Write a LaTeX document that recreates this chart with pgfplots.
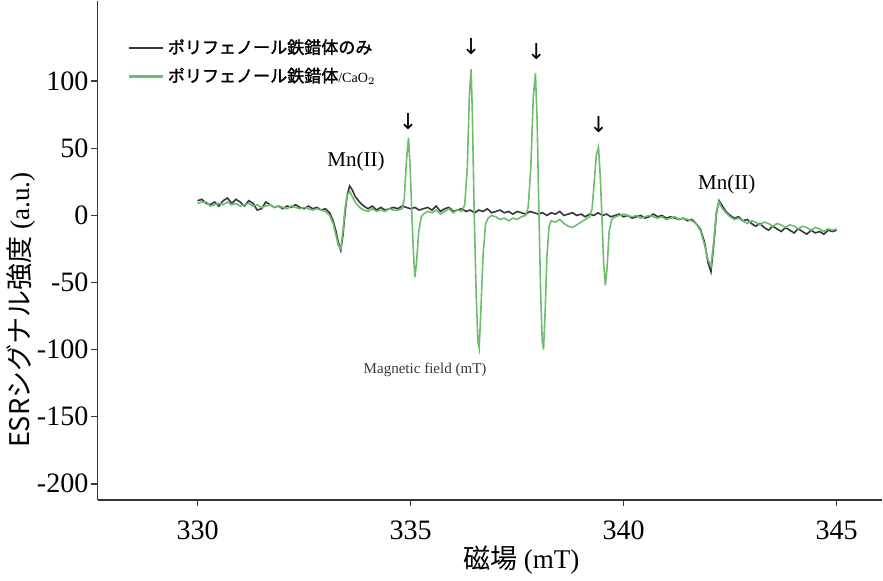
\documentclass[border=0pt]{standalone}
\usepackage{fontspec}
\setmainfont{Liberation Serif}
\newfontfamily\cjk{Noto Sans CJK JP}
\newfontfamily\cjkb{Noto Sans CJK JP}[FakeBold=1.6]
\newfontfamily\symb{DejaVu Sans}
\usepackage{pgfplots}
\pgfplotsset{compat=1.18}

\definecolor{blk}{RGB}{55,55,55}
\definecolor{grn}{RGB}{110,188,110}

\begin{document}
\begin{tikzpicture}
\begin{axis}[
  scale only axis, width=391.5pt, height=249pt,
  xmin=327.65, xmax=346.07, ymin=-212, ymax=160,
  axis x line=bottom, axis y line=left,
  axis line style={-, blk, line width=0.8pt},
  xtick={330,335,340,345}, ytick={-200,-150,...,100},
  tick align=outside, major tick length=3pt,
  tick style={blk, line width=0.8pt},
  /pgf/number format/assume math mode=true,
  xticklabel style={font=\fontsize{14}{16}\selectfont, yshift=-4pt},
  yticklabel style={font=\fontsize{14}{16}\selectfont, xshift=2pt},
  xlabel={{\cjk 磁場} (mT)},
  xlabel style={font=\fontsize{13.5}{16}\selectfont, at={(ticklabel cs:0.54)}, yshift=4pt},
  ylabel={{\cjk ESRシグナル強度} (a.u.)},
  ylabel style={font=\fontsize{13.5}{16}\selectfont, at={(ticklabel cs:0.38)}, yshift=-6pt},
  legend style={draw=none, fill=none, at={(0.03,0.94)}, anchor=north west,
    font=\cjkb\fontsize{8.5}{10}\selectfont, row sep=1.5pt},
  legend cell align=left,
  legend image code/.code={\draw[#1, line width=1.2pt] (0pt,0pt) -- (17pt,0pt);},
]
\addplot[blk, line width=0.8pt] coordinates {
(330.0,11)(330.1,12)(330.2,9)(330.3,8)(330.4,10)(330.5,7)(330.6,11)(330.7,13)(330.8,9)(330.9,12)
(331.0,10)(331.1,7)(331.2,11)(331.3,9)(331.4,4)(331.5,5)(331.6,10)(331.7,8)(331.8,6)(331.9,7)
(332.0,5)(332.1,7)(332.2,6)(332.3,8)(332.4,6)(332.5,5)(332.6,7)(332.7,5)(332.8,6)(332.9,4)
(333.0,5)(333.1,2)(333.18,-4)(333.25,-12)(333.3,-20)(333.36,-26)(333.41,-15)(333.46,2)(333.51,15)(333.57,22)
(333.63,19)(333.7,14)(333.8,10)(333.9,7)(334.0,5)(334.1,7)(334.2,4)(334.3,6)(334.4,4)(334.5,5)
(334.6,6)(334.7,5)(334.8,7)(334.9,6)(335.0,5)(335.1,6)(335.2,4)(335.3,5)(335.4,6)(335.5,4)
(335.6,7)(335.7,3)(335.8,5)(335.9,6)(336.0,3)(336.1,4)(336.2,5)(336.3,3)(336.4,4)(336.5,2)
(336.6,4)(336.7,3)(336.8,5)(336.9,2)(337.0,3)(337.1,4)(337.2,2)(337.3,3)(337.4,1)(337.5,3)
(337.6,2)(337.7,1)(337.8,3)(337.9,2)(338.0,1)(338.1,2)(338.2,0)(338.3,2)(338.4,1)(338.5,3)
(338.6,0)(338.7,1)(338.8,2)(338.9,0)(339.0,1)(339.1,-1)(339.2,1)(339.3,0)(339.4,2)(339.5,0)
(339.6,1)(339.7,-1)(339.8,0)(339.9,1)(340.0,-1)(340.1,0)(340.2,-2)(340.3,-1)(340.4,0)(340.5,-2)
(340.6,-1)(340.7,1)(340.8,-1)(340.9,0)(341.0,-2)(341.1,-1)(341.2,-2)(341.3,-3)(341.4,-2)(341.5,-4)
(341.6,-3)(341.7,-6)(341.8,-10)(341.9,-20)(341.98,-35)(342.05,-42)(342.12,-20)(342.18,2)(342.24,11)(342.3,8)
(342.4,3)(342.5,0)(342.6,-2)(342.7,-1)(342.8,-4)(342.9,-3)(343.0,-6)(343.1,-8)(343.2,-6)(343.3,-9)
(343.4,-11)(343.5,-8)(343.6,-10)(343.7,-12)(343.8,-9)(343.9,-11)(344.0,-13)(344.1,-10)(344.2,-12)(344.3,-14)
(344.4,-11)(344.5,-13)(344.6,-12)(344.7,-14)(344.8,-11)(344.9,-12)(345.0,-11)
};
\addplot[grn, line width=0.8pt] coordinates {
(330.0,9)(330.1,10)(330.2,10)(330.3,7)(330.4,8)(330.5,9)(330.6,8)(330.7,10)(330.8,8)(330.9,9)
(331.0,7)(331.1,8)(331.2,9)(331.3,7)(331.4,8)(331.5,6)(331.6,7)(331.7,8)(331.8,6)(331.9,7)
(332.0,6)(332.1,5)(332.2,7)(332.3,6)(332.4,5)(332.5,6)(332.6,5)(332.7,4)(332.8,5)(332.9,4)
(333.0,3)(333.1,0)(333.18,-6)(333.25,-15)(333.3,-22)(333.36,-25)(333.41,-12)(333.46,5)(333.51,15)(333.57,18)
(333.63,14)(333.7,10)(333.8,6)(333.9,4)(334.0,3)(334.1,5)(334.2,3)(334.3,4)(334.4,3)(334.5,5)
(334.6,4)(334.7,4)(334.8,5)(334.85,12)(334.9,40)(334.95,58)(334.99,35)(335.03,0)(335.07,-30)(335.1,-46)
(335.14,-35)(335.19,-12)(335.25,-1)(335.3,1)(335.4,3)(335.5,2)(335.6,4)(335.7,1)(335.8,3)(335.9,5)
(336.0,2)(336.1,4)(336.2,3)(336.27,8)(336.33,35)(336.38,90)(336.42,109)(336.45,75)(336.49,5)(336.54,-60)
(336.58,-94)(336.61,-99)(336.65,-70)(336.7,-30)(336.76,-6)(336.82,-2)(336.9,0)(337.0,-1)(337.1,-3)(337.2,-2)
(337.3,-4)(337.4,-2)(337.5,-3)(337.6,-1)(337.7,0)(337.76,6)(337.82,35)(337.88,88)(337.93,106)(337.97,70)
(338.01,5)(338.05,-55)(338.09,-94)(338.12,-100)(338.16,-70)(338.2,-30)(338.25,-8)(338.3,-4)(338.4,-5)(338.5,-3)
(338.6,-6)(338.7,-8)(338.8,-9)(338.9,-7)(339.0,-5)(339.1,-3)(339.2,-1)(339.26,5)(339.31,25)(339.36,45)
(339.41,51)(339.45,30)(339.49,0)(339.53,-35)(339.57,-52)(339.61,-40)(339.66,-12)(339.72,-3)(339.8,-1)(339.9,0)
(340.0,1)(340.1,0)(340.2,-1)(340.3,0)(340.4,-2)(340.5,-1)(340.6,0)(340.7,-1)(340.8,-2)(340.9,-1)
(341.0,-3)(341.1,-2)(341.2,-1)(341.3,-3)(341.4,-2)(341.5,-3)(341.6,-4)(341.7,-6)(341.8,-11)(341.9,-22)
(341.98,-33)(342.05,-38)(342.12,-18)(342.18,3)(342.24,10)(342.3,6)(342.4,2)(342.5,-1)(342.6,-3)(342.7,-2)
(342.8,-4)(342.9,-6)(343.0,-4)(343.1,-5)(343.2,-7)(343.3,-5)(343.4,-6)(343.5,-8)(343.6,-6)(343.7,-7)
(343.8,-9)(343.9,-7)(344.0,-8)(344.1,-10)(344.2,-8)(344.3,-9)(344.4,-11)(344.5,-9)(344.6,-10)(344.7,-12)
(344.8,-10)(344.9,-11)(345.0,-10)
};
\legend{ポリフェノール鉄錯体のみ, ポリフェノール鉄錯体{\rmfamily\fontsize{7}{8}\selectfont /CaO$_2$}}
\node[font=\fontsize{10.5}{12}\selectfont] at (axis cs:333.72,40) {Mn(II)};
\node[font=\fontsize{10.5}{12}\selectfont] at (axis cs:342.42,23) {Mn(II)};
\node[font=\symb\fontsize{11}{12}\selectfont] at (axis cs:334.94,70) {↓};
\node[font=\symb\fontsize{11}{12}\selectfont] at (axis cs:336.42,126) {↓};
\node[font=\symb\fontsize{11}{12}\selectfont] at (axis cs:337.95,122) {↓};
\node[font=\symb\fontsize{11}{12}\selectfont] at (axis cs:339.41,68) {↓};
\node[font=\fontsize{7.5}{9}\selectfont, text=blk] at (axis cs:335.34,-115) {Magnetic field (mT)};
\end{axis}
\end{tikzpicture}
\end{document}
